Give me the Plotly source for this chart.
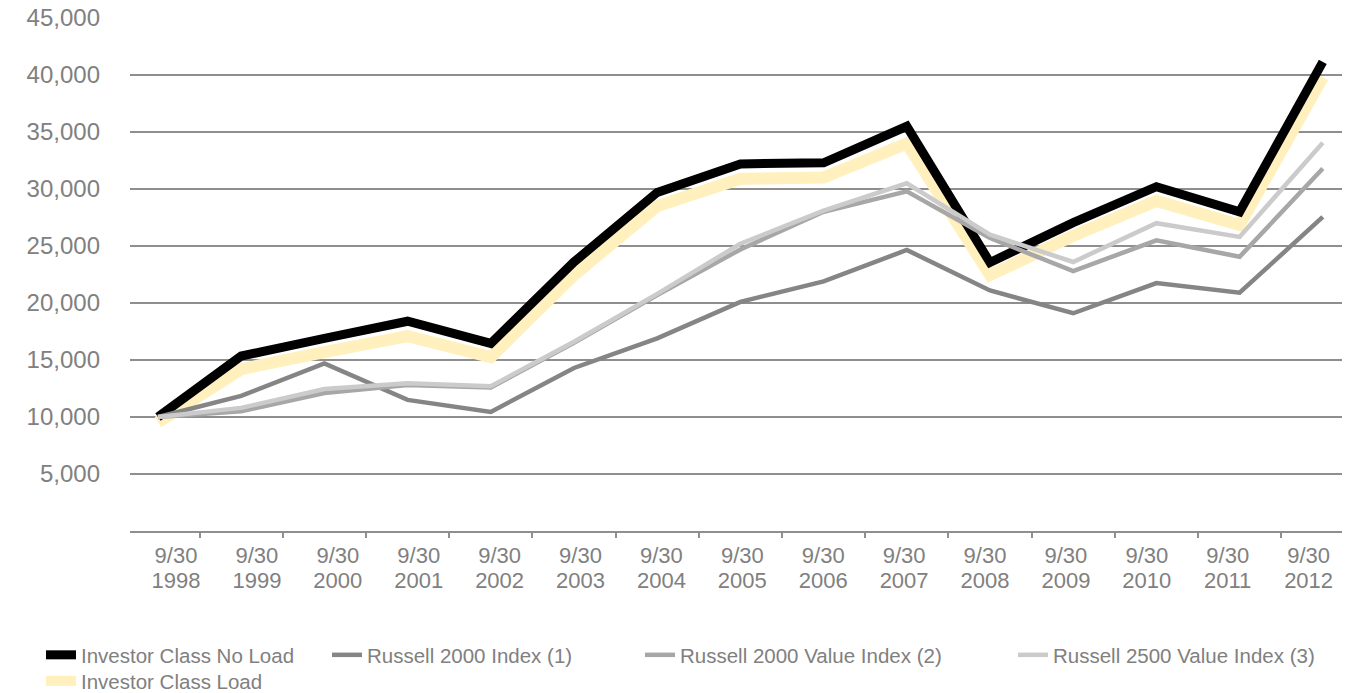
import plotly.graph_objects as go

years = ["1998", "1999", "2000", "2001", "2002", "2003", "2004", "2005",
         "2006", "2007", "2008", "2009", "2010", "2011", "2012"]
date_label = "9/30"

no_load = [10000, 15350, 16900, 18400, 16450, 23600, 29700, 32200,
           32300, 35500, 23550, 27050, 30200, 28000, 41150]
load = [9550, 14200, 15700, 17100, 15250, 22450, 28500, 30900,
        31000, 34000, 22450, 25900, 28950, 26850, 39800]
r2000 = [10000, 11850, 14700, 11500, 10450, 14300, 16900, 20100,
         21900, 24650, 21100, 19100, 21750, 20900, 27550]
r2000v = [10000, 10500, 12100, 12800, 12600, 16500, 20700, 24700,
          28000, 29800, 25700, 22800, 25500, 24050, 31800]
r2500v = [10000, 10800, 12450, 12950, 12700, 16600, 20800, 25200,
          28100, 30500, 26000, 23600, 27000, 25800, 34050]

yticks = [5000, 10000, 15000, 20000, 25000, 30000, 35000, 40000, 45000]

FONT = "Liberation Sans"
TXT = "#808080"
GRID = "#8e8e8e"

W, H = 1371, 693
L, R, T, B = 130, 29, 18, 162
pw = W - L - R
ph = H - T - B

# pixel geometry of the category axis
p0, step = 158.0, 83.2
x_lo = -(p0 - L) / step
x_hi = x_lo + pw / step
idx = list(range(len(years)))
# labels laid out on a slightly narrower pitch than the points
lab_pos = [(176 + 80.9 * i - p0) / step for i in idx]
bound_pos = [i + 0.5 for i in idx[:-1]]

fig = go.Figure()

series = [
    ("Investor Class Load", load, "#fff0bd", 12, "legend5"),
    ("Investor Class No Load", no_load, "#000000", 9, "legend"),
    ("Russell 2000 Index (1)", r2000, "#858585", 4.5, "legend2"),
    ("Russell 2000 Value Index (2)", r2000v, "#a7a7a7", 4.5, "legend3"),
    ("Russell 2500 Value Index (3)", r2500v, "#cbcbcb", 4.5, "legend4"),
]
for name, vals, col, wd, lg in series:
    fig.add_trace(go.Scatter(
        x=idx, y=vals, name=name, mode="lines",
        line=dict(color=col, width=wd), legend=lg,
        hoverinfo="x+y+name",
    ))

# invisible helpers to activate the overlay axes
fig.add_trace(go.Scatter(x=[idx[0]], y=[yticks[0]], xaxis="x2", mode="markers",
                         marker=dict(opacity=0), showlegend=False, hoverinfo="skip"))
fig.add_trace(go.Scatter(x=[idx[0]], y=[yticks[0]], xaxis="x3", mode="markers",
                         marker=dict(opacity=0), showlegend=False, hoverinfo="skip"))


def lg_pos(px, py):
    return dict(x=(px - L) / pw, y=(H - B - py) / ph, xanchor="left", yanchor="middle",
                orientation="h", bgcolor="rgba(0,0,0,0)",
                font=dict(family=FONT, size=20.5, color=TXT))


row1, row2 = 655, 681
legs = {
    "legend": lg_pos(41, row1),
    "legend2": lg_pos(327, row1),
    "legend3": lg_pos(640, row1),
    "legend4": lg_pos(1013, row1),
    "legend5": lg_pos(41, row2),
}

fig.update_layout(
    width=W, height=H,
    margin=dict(l=L, r=R, t=T, b=B, autoexpand=False),
    paper_bgcolor="white", plot_bgcolor="white",
    font=dict(family=FONT, color=TXT),
    showlegend=True,
    xaxis=dict(
        range=[x_lo, x_hi], showgrid=False, zeroline=False, automargin=False,
        showline=True, linecolor=GRID, linewidth=2,
        tickmode="array", tickvals=bound_pos, ticktext=["" for _ in bound_pos],
        ticks="outside", ticklen=5, tickwidth=1.5, tickcolor=GRID,
        fixedrange=True,
    ),
    xaxis2=dict(
        range=[x_lo, x_hi], overlaying="x", side="bottom", showgrid=False,
        zeroline=False, showline=False, tickmode="array", tickvals=lab_pos,
        ticktext=[date_label for _ in years], ticks="", automargin=False,
        tickfont=dict(family=FONT, size=22, color=TXT), ticklabelstandoff=9,
    ),
    xaxis3=dict(
        range=[x_lo, x_hi], overlaying="x", side="bottom", showgrid=False,
        zeroline=False, showline=False, tickmode="array", tickvals=lab_pos,
        ticktext=years, ticks="", automargin=False,
        tickfont=dict(family=FONT, size=22, color=TXT), ticklabelstandoff=34,
    ),
    yaxis=dict(
        range=[0, 45000], tickmode="array", tickvals=yticks,
        ticktext=[f"{v:,}" for v in yticks], automargin=False,
        showgrid=True, gridcolor=GRID, gridwidth=1.5, zeroline=False,
        showline=False, ticks="", ticklabelstandoff=29,
        tickfont=dict(family=FONT, size=24, color=TXT), fixedrange=True,
    ),
    **legs,
)

fig.write_html("out.html")
